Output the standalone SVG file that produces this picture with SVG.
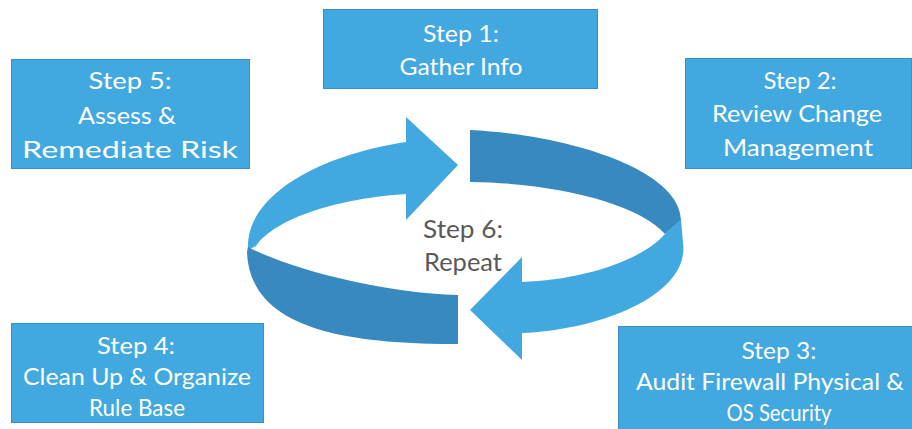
<svg xmlns="http://www.w3.org/2000/svg" width="912" height="429" viewBox="0 0 912 429">
<style>
.box{fill:#42A8E0;stroke:#3A90C4;stroke-width:1}
.t{font-family:Lato,"Open Sans","Liberation Sans",sans-serif;font-size:24px;fill:#FFFFFF;text-anchor:middle}
.c{font-family:Lato,"Open Sans","Liberation Sans",sans-serif;font-size:25px;fill:#595959;text-anchor:middle}
.light{fill:#42A8E0}
.dark{fill:#3889BF}
</style>
<rect width="912" height="429" fill="#FFFFFF"/>
<g id="connectors">
<path class="light" d="M406,142 L406,117 L458,165 L406,220 L406,194 C340,198 275,218 256,246 L248,250 C245,195 320,155 406,142 Z"/>
<path class="dark" d="M248,247 C288,268 380,293 458,295 L458,344 C340,344 250,327 247,252 Z"/>
<path class="dark" d="M470,130 C570,135 680,170 681,220 L665,234 C640,205 560,183 470,182 Z"/>
<path class="light" d="M681,219 L683,243 C690,295 600,330 522,333 L522,360 L470,310 L522,257 L522,282 C580,280 640,262 665,234 Z"/>
</g>
<g id="step1">
<rect class="box" x="323.5" y="9.5" width="274" height="79"/>
<text class="t" x="461" y="42" textLength="76" lengthAdjust="spacingAndGlyphs">Step 1:</text>
<text class="t" x="461" y="75" textLength="123" lengthAdjust="spacingAndGlyphs">Gather Info</text>
</g>
<g id="step2">
<rect class="box" x="685.5" y="58.5" width="226" height="110"/>
<text class="t" x="800" y="89" textLength="73" lengthAdjust="spacingAndGlyphs">Step 2:</text>
<text class="t" x="797" y="122" textLength="170" lengthAdjust="spacingAndGlyphs">Review Change</text>
<text class="t" x="798" y="156" textLength="150" lengthAdjust="spacingAndGlyphs">Management</text>
</g>
<g id="step3">
<rect class="box" x="618.5" y="326.5" width="296" height="106"/>
<text class="t" x="779" y="359" textLength="75" lengthAdjust="spacingAndGlyphs">Step 3:</text>
<text class="t" x="770" y="390" textLength="268" lengthAdjust="spacingAndGlyphs">Audit Firewall Physical &amp;</text>
<text class="t" x="779" y="421" textLength="105" lengthAdjust="spacingAndGlyphs">OS Security</text>
</g>
<g id="step4">
<rect class="box" x="11.5" y="323.5" width="252" height="99"/>
<text class="t" x="136" y="354" textLength="78" lengthAdjust="spacingAndGlyphs">Step 4:</text>
<text class="t" x="137" y="385" textLength="228" lengthAdjust="spacingAndGlyphs">Clean Up &amp; Organize</text>
<text class="t" x="137" y="416" textLength="96" lengthAdjust="spacingAndGlyphs">Rule Base</text>
</g>
<g id="step5">
<rect class="box" x="11.5" y="59.5" width="238" height="109"/>
<text class="t" x="130" y="89" textLength="83" lengthAdjust="spacingAndGlyphs">Step 5:</text>
<text class="t" x="127" y="124" textLength="98" lengthAdjust="spacingAndGlyphs">Assess &amp;</text>
<text class="t" x="130" y="158" textLength="216" lengthAdjust="spacingAndGlyphs">Remediate Risk</text>
</g>
<g id="step6">
<text class="c" x="463" y="238" textLength="80" lengthAdjust="spacingAndGlyphs">Step 6:</text>
<text class="c" x="463" y="271" textLength="78" lengthAdjust="spacingAndGlyphs">Repeat</text>
</g>
</svg>
